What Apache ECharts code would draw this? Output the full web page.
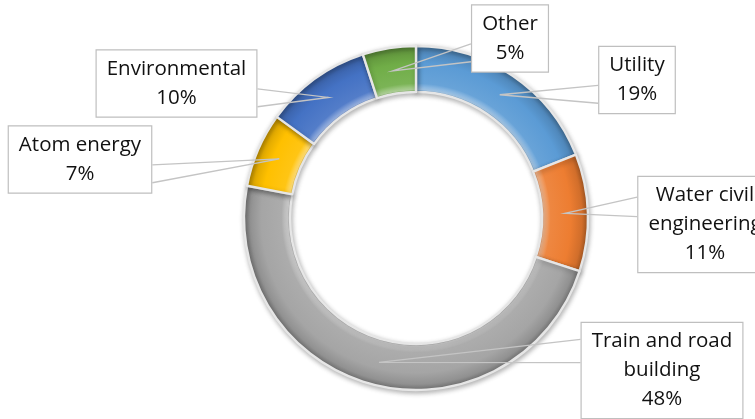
<!DOCTYPE html>
<html>
<head>
<meta charset="utf-8">
<script src="https://cdn.jsdelivr.net/npm/echarts@6/dist/echarts.min.js"></script>
<style>
  html, body { margin: 0; padding: 0; background: #ffffff; }
  #chart { width: 755px; height: 419px; }
</style>
</head>
<body>
<div id="chart"></div>
<script>
// Share of orders by business area (percent)
const categories = ['Utility', 'Water civil engineering', 'Train and road building', 'Atom energy', 'Environmental', 'Other'];
const shares = [19, 11, 48, 7, 10, 5];
// Wrapped label captions, one per category
const captions = ['Utility', 'Water civil\nengineering', 'Train and road\nbuilding', 'Atom energy', 'Environmental', 'Other'];
const palette = ['#5B9BD5', '#ED7D31', '#A5A5A5', '#FFC000', '#4472C4', '#70AD47'];

// Callout placement: box centre, the side the pointer leaves from, and where its base sits along that side
const callouts = [
  { c: [637, 80],    side: 'left',  base: [0.58, 0.84] },
  { c: [705, 224.5], side: 'left',  base: [0.22, 0.42] },
  { c: [662, 370.5], side: 'left',  base: [0.18, 0.42] },
  { c: [80, 159.5],  side: 'right', base: [0.58, 0.84] },
  { c: [176.5, 83.5], side: 'right', base: [0.58, 0.84] },
  { c: [510, 38.5],  side: 'left',  base: [0.58, 0.84] }
];

const CX = 416, CY = 218, R0 = 126, R1 = 172;

function shade(hex, f) {
  const n = parseInt(hex.slice(1), 16);
  let r = (n >> 16) & 255, g = (n >> 8) & 255, b = n & 255;
  if (f >= 0) { r += (255 - r) * f; g += (255 - g) * f; b += (255 - b) * f; }
  else { r *= 1 + f; g *= 1 + f; b *= 1 + f; }
  return 'rgb(' + Math.round(r) + ',' + Math.round(g) + ',' + Math.round(b) + ')';
}

// Ring-shaped bevel: light rim on the inner edge, darker toward the outer edge
function bevel(hex) {
  const k = R0 / R1;
  return {
    type: 'radial', x: CX, y: CY, r: R1, global: true,
    colorStops: [
      { offset: 0, color: hex },
      { offset: k, color: shade(hex, -0.15) },
      { offset: k + 0.012, color: shade(hex, 0.45) },
      { offset: k + 0.05, color: shade(hex, 0.08) },
      { offset: 0.9, color: hex },
      { offset: 0.965, color: shade(hex, -0.12) },
      { offset: 1, color: shade(hex, -0.3) }
    ]
  };
}

const chart = echarts.init(document.getElementById('chart'), null, { renderer: 'canvas' });

function sliceAnchor(seriesIndex, idx) {
  let lay = null;
  try { lay = chart.getModel().getSeriesByIndex(seriesIndex).getData().getItemLayout(idx); } catch (e) { lay = null; }
  let a;
  if (lay && lay.startAngle != null) {
    a = (lay.startAngle + lay.endAngle) / 2;
  } else {
    const total = shares.reduce((s, v) => s + v, 0);
    let before = 0;
    for (let i = 0; i < idx; i++) before += shares[i];
    a = -Math.PI / 2 + 2 * Math.PI * (before + shares[idx] / 2) / total;
  }
  const rm = (R0 + R1) / 2;
  return [CX + rm * Math.cos(a), CY + rm * Math.sin(a)];
}

const ring = {
  type: 'pie',
  center: [CX, CY],
  radius: [R0, R1],
  startAngle: 90,
  clockwise: true,
  avoidLabelOverlap: false,
  silent: true
};

chart.setOption({
  animation: false,
  backgroundColor: '#ffffff',
  series: [
    // The coloured ring
    Object.assign({}, ring, {
      z: 1,
      data: categories.map((name, i) => ({
        name: name,
        value: shares[i],
        itemStyle: { color: bevel(palette[i]) }
      })),
      itemStyle: {
        borderColor: '#e6e6e6',
        borderWidth: 2.4,
        shadowBlur: 5,
        shadowColor: 'rgba(0,0,0,0.28)',
        shadowOffsetX: 1,
        shadowOffsetY: 2
      },
      label: { show: false },
      labelLine: { show: false }
    }),
    // Same ring, invisible, carrying the callouts so they sit on top of the slices
    Object.assign({}, ring, {
      z: 3,
      data: categories.map((name, i) => ({ name: name, value: shares[i] })),
      itemStyle: { color: 'rgba(0,0,0,0)', borderWidth: 0 },
      label: {
        show: true,
        position: 'outside',
        formatter: p => captions[p.dataIndex] + '\n' + p.percent.toFixed(0) + '%',
        fontFamily: 'Open Sans',
        fontSize: 20.5,
        lineHeight: 29,
        color: '#111111',
        align: 'center',
        backgroundColor: '#ffffff',
        borderColor: '#bfbfbf',
        borderWidth: 1.2,
        padding: [4, 10]
      },
      labelLine: {
        show: true,
        lineStyle: { color: '#c4c4c4', width: 1.3 }
      },
      labelLayout: function (p) {
        const cfg = callouts[p.dataIndex];
        const w = p.labelRect.width, h = p.labelRect.height;
        const left = cfg.c[0] - w / 2, top = cfg.c[1] - h / 2;
        const ex = cfg.side === 'left' ? left : left + w;
        const anchor = sliceAnchor(p.seriesIndex, p.dataIndex);
        return {
          x: cfg.c[0],
          y: cfg.c[1],
          align: 'center',
          verticalAlign: 'middle',
          labelLinePoints: [
            [ex, top + cfg.base[0] * h],
            anchor,
            [ex, top + cfg.base[1] * h]
          ]
        };
      }
    })
  ]
});
</script>
</body>
</html>
